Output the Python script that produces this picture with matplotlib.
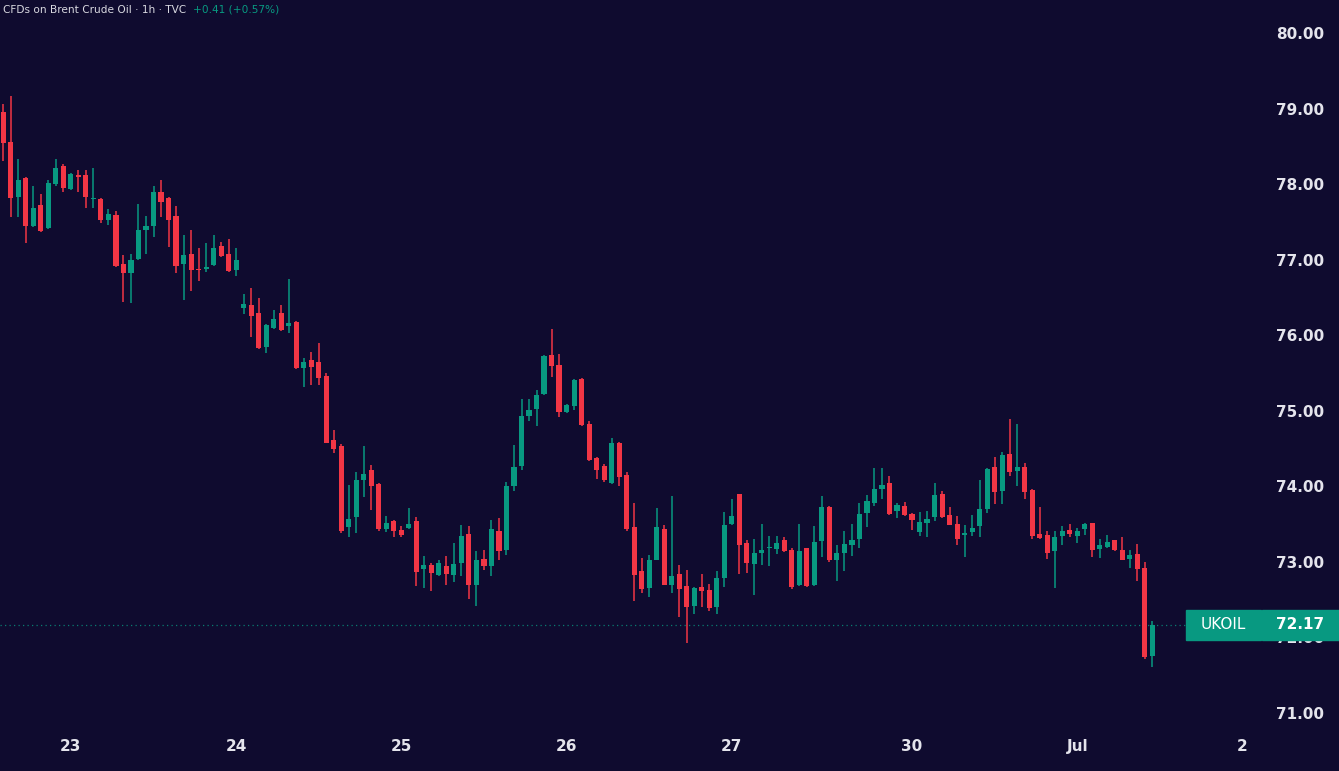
import matplotlib.pyplot as plt
from matplotlib.patches import Rectangle
import numpy as np

# hourly OHLC
opens = [78.95, 78.56, 77.83, 78.08, 77.45, 77.72, 77.42, 78.00, 78.24, 77.93,
         78.12, 78.12, 77.80, 77.80, 77.52, 77.59, 76.94, 76.83, 77.01, 77.39,
         77.45, 77.90, 77.82, 77.58, 76.94, 77.08, 76.88, 76.88, 76.93, 77.18,
         77.08, 76.86, 76.36, 76.40, 76.30, 75.85, 76.09, 76.30, 76.12, 76.18,
         75.57, 75.67, 75.64, 75.46, 74.61, 74.53, 73.46, 73.59, 74.09, 74.22,
         74.03, 73.44, 73.54, 73.42, 73.45, 73.54, 72.91, 72.96, 72.83, 72.95,
         72.83, 72.99, 73.37, 72.69, 73.04, 72.95, 73.41, 73.16, 74.00, 74.27,
         74.93, 75.02, 75.22, 75.74, 75.61, 74.99, 75.06, 75.42, 74.83, 74.38,
         74.27, 74.04, 74.58, 74.15, 73.46, 72.88, 72.66, 73.03, 73.43, 72.69,
         72.84, 72.68, 72.42, 72.67, 72.63, 72.41, 72.79, 73.50, 73.90, 73.25,
         72.97, 73.12, 73.18, 73.17, 73.29, 73.16, 72.69, 73.18, 72.69, 73.28,
         73.73, 73.03, 73.12, 73.22, 73.30, 73.65, 73.78, 73.96, 74.05, 73.68,
         73.74, 73.64, 73.39, 73.51, 73.60, 73.90, 73.62, 73.50, 73.36, 73.39,
         73.48, 73.70, 74.25, 73.94, 74.43, 74.20, 74.25, 73.95, 73.37, 73.36,
         73.14, 73.34, 73.42, 73.34, 73.43, 73.51, 73.17, 73.20, 73.29, 73.16,
         73.04, 73.10, 72.92, 71.75]
highs = [79.06, 79.17, 78.33, 78.10, 77.98, 77.87, 78.06, 78.33, 78.27, 78.15,
         78.19, 78.19, 78.22, 77.82, 77.67, 77.65, 77.06, 77.08, 77.74, 77.58,
         77.97, 78.05, 77.83, 77.71, 77.33, 77.39, 77.15, 77.22, 77.33, 77.24,
         77.28, 77.16, 76.55, 76.63, 76.49, 76.15, 76.34, 76.40, 76.75, 76.19,
         75.70, 75.78, 75.90, 75.50, 74.75, 74.56, 74.02, 74.19, 74.53, 74.28,
         74.05, 73.61, 73.55, 73.48, 73.71, 73.60, 73.08, 72.99, 73.03, 73.08,
         73.25, 73.49, 73.48, 73.15, 73.16, 73.55, 73.58, 74.06, 74.55, 75.15,
         75.15, 75.27, 75.74, 76.08, 75.75, 75.09, 75.42, 75.44, 74.86, 74.39,
         74.30, 74.64, 74.59, 74.19, 73.78, 73.05, 73.09, 73.71, 73.49, 73.87,
         72.96, 72.89, 72.67, 72.84, 72.71, 72.88, 73.66, 73.83, 73.90, 73.29,
         73.31, 73.50, 73.34, 73.34, 73.33, 73.19, 73.50, 73.19, 73.47, 73.87,
         73.74, 73.22, 73.41, 73.50, 73.78, 73.89, 74.24, 74.24, 74.14, 73.78,
         73.79, 73.65, 73.66, 73.68, 74.05, 73.94, 73.73, 73.61, 73.49, 73.62,
         74.08, 74.24, 74.39, 74.46, 74.89, 74.83, 74.31, 73.96, 73.73, 73.41,
         73.41, 73.48, 73.50, 73.45, 73.52, 73.52, 73.30, 73.36, 73.29, 73.33,
         73.16, 73.24, 73.00, 72.22]
lows = [78.31, 77.56, 77.57, 77.22, 77.43, 77.36, 77.41, 77.97, 77.90, 77.92,
        77.90, 77.69, 77.69, 77.48, 77.46, 76.90, 76.44, 76.43, 77.00, 77.08,
        77.30, 77.57, 77.17, 76.83, 76.47, 76.58, 76.72, 76.84, 76.92, 77.04,
        76.84, 76.78, 76.28, 75.98, 75.82, 75.76, 76.08, 76.06, 76.03, 75.55,
        75.31, 75.34, 75.34, 74.57, 74.44, 73.38, 73.33, 73.38, 73.86, 73.69,
        73.41, 73.39, 73.33, 73.33, 73.44, 72.68, 72.65, 72.62, 72.82, 72.69,
        72.74, 72.81, 72.51, 72.42, 72.89, 72.81, 73.03, 73.09, 73.94, 74.21,
        74.87, 74.80, 75.21, 75.45, 74.92, 74.97, 75.01, 74.80, 74.34, 74.10,
        74.06, 74.03, 74.00, 73.41, 72.48, 72.59, 72.54, 73.02, 72.69, 72.59,
        72.27, 71.93, 72.31, 72.41, 72.35, 72.31, 72.67, 73.49, 72.84, 72.85,
        72.56, 72.96, 72.95, 73.10, 73.13, 72.64, 72.68, 72.67, 72.68, 73.07,
        73.00, 72.75, 72.88, 73.08, 73.19, 73.46, 73.74, 73.83, 73.62, 73.58,
        73.61, 73.42, 73.34, 73.33, 73.54, 73.58, 73.49, 73.22, 73.07, 73.34,
        73.33, 73.65, 73.77, 73.77, 74.14, 74.00, 73.83, 73.31, 73.31, 73.04,
        72.66, 73.22, 73.33, 73.25, 73.36, 73.07, 73.05, 73.19, 73.14, 73.02,
        72.92, 72.75, 71.72, 71.61]
closes = [78.54, 77.81, 78.05, 77.44, 77.69, 77.38, 78.01, 78.22, 77.95, 78.14,
          78.09, 77.83, 77.82, 77.52, 77.60, 76.91, 76.83, 77.00, 77.39, 77.44,
          77.89, 77.77, 77.53, 76.92, 77.06, 76.86, 76.86, 76.90, 77.16, 77.05,
          76.85, 76.99, 76.41, 76.26, 75.83, 76.14, 76.22, 76.07, 76.16, 75.56,
          75.65, 75.58, 75.44, 74.58, 74.50, 73.41, 73.57, 74.08, 74.17, 74.01,
          73.44, 73.52, 73.41, 73.36, 73.50, 72.87, 72.96, 72.86, 72.99, 72.84,
          72.97, 73.34, 72.69, 73.03, 72.95, 73.43, 73.15, 74.00, 74.26, 74.93,
          75.01, 75.21, 75.73, 75.59, 74.99, 75.08, 75.41, 74.81, 74.35, 74.22,
          74.08, 74.58, 74.13, 73.43, 72.83, 72.64, 73.03, 73.46, 72.69, 72.81,
          72.64, 72.40, 72.65, 72.62, 72.39, 72.79, 73.49, 73.61, 73.22, 72.99,
          73.12, 73.16, 73.20, 73.25, 73.14, 72.67, 73.15, 72.68, 73.26, 73.73,
          73.03, 73.12, 73.24, 73.29, 73.63, 73.81, 73.97, 74.02, 73.64, 73.75,
          73.62, 73.55, 73.53, 73.57, 73.89, 73.60, 73.49, 73.31, 73.38, 73.45,
          73.70, 74.23, 73.92, 74.41, 74.19, 74.26, 73.93, 73.34, 73.32, 73.12,
          73.33, 73.41, 73.37, 73.41, 73.50, 73.16, 73.22, 73.26, 73.16, 73.03,
          73.09, 72.91, 71.74, 72.17]

day_labels = ["23", "24", "25", "26", "27", "30", "Jul", "2"]
day_bars = [9, 31, 53, 75, 97, 121, 143, 165]
price_ticks = [71, 72, 73, 74, 75, 76, 77, 78, 79, 80]
symbol = "UKOIL"
title = "CFDs on Brent Crude Oil \u00b7 1h \u00b7 TVC"
change = "+0.41 (+0.57%)"

BG = "#0f0b2f"
UP = "#089981"
DOWN = "#f23645"
TXT = "#e4e4ec"

W, H = 1339, 771
fig = plt.figure(figsize=(W / 100, H / 100), dpi=100, facecolor=BG)
ax = fig.add_axes([0, 43 / H, 1262 / W, 728 / H], facecolor=BG)

o, h, l, c = (np.array(a) for a in (opens, highs, lows, closes))
x = np.arange(len(c))
cols = np.where(c >= o, UP, DOWN)

ax.vlines(x, l, h, colors=cols, lw=1.1, zorder=2)
ax.bar(x, np.maximum(np.abs(c - o), 0.015), bottom=np.minimum(o, c), width=0.68,
       color=cols, linewidth=0, zorder=3)

last = c[-1]
ax.axhline(last, color=UP, lw=0.9, ls=(0, (1, 2.6)), alpha=0.8, zorder=1)

ax.set_xlim(-0.44, 167.6)
ax.set_ylim(70.802, 80.437)
for s in ax.spines.values():
    s.set_visible(False)

ax.yaxis.tick_right()
ax.set_yticks(price_ticks, [f"{v:.2f}" for v in price_ticks])
ax.tick_params(axis="y", length=0, pad=10, labelsize=11, labelcolor=TXT)
ax.set_xticks(day_bars, day_labels)
ax.tick_params(axis="x", length=0, pad=8, labelsize=11, labelcolor=TXT)
for lab in ax.get_yticklabels() + ax.get_xticklabels():
    lab.set_fontweight("bold")

# last price labels on the scale
tr = ax.get_yaxis_transform()
ax.add_patch(Rectangle((1186 / 1262, last - 0.2), 75 / 1262, 0.4, transform=tr,
                       color=UP, clip_on=False, zorder=6))
ax.add_patch(Rectangle((1.0, last - 0.2), 77 / 1262, 0.4, transform=tr,
                       color=UP, clip_on=False, zorder=6))
ax.text(1223.5 / 1262, last, symbol, transform=tr, ha="center", va="center",
        color="white", fontsize=11, zorder=7)
ax.text(1276 / 1262, last, f"{last:.2f}", transform=tr, ha="left", va="center",
        color="white", fontsize=11, fontweight="bold", zorder=7)

t1 = fig.text(3 / W, 1 - 10 / H, title, color="#d8d8e0", fontsize=7.6, va="center")
ax.annotate(change, xy=(1, 0.5), xycoords=t1, xytext=(5, 0), textcoords="offset points",
            va="center", color=UP, fontsize=7.6, annotation_clip=False)

fig.savefig("out.png", dpi=100, facecolor=BG)
